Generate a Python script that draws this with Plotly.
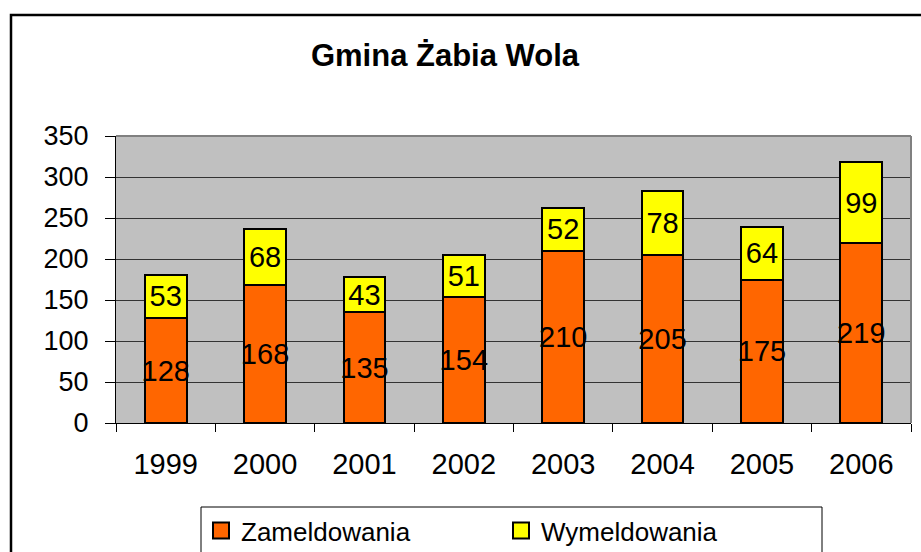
import plotly.graph_objects as go

years = ["1999", "2000", "2001", "2002", "2003", "2004", "2005", "2006"]
zameldowania = [128, 168, 135, 154, 210, 205, 175, 219]
wymeldowania = [53, 68, 43, 51, 52, 78, 64, 99]
series_names = ["Zameldowania", "Wymeldowania"]
title_text = "Gmina Żabia Wola"
y_ticks = [0, 50, 100, 150, 200, 250, 300, 350]

FONT = "Liberation Sans, Arial, sans-serif"
ORANGE, YELLOW = "#FF6600", "#FFFF00"

# plot area in pixels
L, R, T, B = 116, 911, 136, 423
W, H = 921, 552
pw, ph = R - L, B - T

def px_x(px):
    return (px - L) / pw

def px_y(py):
    return (B - py) / ph

fig = go.Figure()
for vals, name, col in [(zameldowania, series_names[0], ORANGE),
                        (wymeldowania, series_names[1], YELLOW)]:
    fig.add_trace(go.Bar(
        x=years, y=vals, name=name, showlegend=False,
        marker=dict(color=col, line=dict(color="black", width=2)),
        text=vals, textposition="inside", insidetextanchor="middle", textangle=0,
        textfont=dict(size=29, color="black", family=FONT),
        cliponaxis=False,
    ))
# legend entries (square symbols like the original legend)
for name, col in [(series_names[0], ORANGE), (series_names[1], YELLOW)]:
    fig.add_trace(go.Scatter(
        x=[None], y=[None], mode="markers", name=name,
        marker=dict(symbol="square", size=17, color=col, line=dict(color="black", width=2)),
    ))

fig.update_layout(
    width=W, height=H,
    barmode="stack", bargap=0.58,
    paper_bgcolor="white", plot_bgcolor="#C0C0C0",
    margin=dict(l=L, r=W - R, t=T, b=H - B, pad=0, autoexpand=False),
    font=dict(family=FONT, color="black"),
    uniformtext=dict(minsize=29, mode="show"),
    title=dict(text="<b>" + title_text + "</b>", x=445 / W, xanchor="center",
               y=1 - 55 / H, yanchor="middle", font=dict(size=31, family=FONT)),
    showlegend=True,
    legend=dict(orientation="h", x=px_x(201), xanchor="left", y=px_y(507), yanchor="top",
                borderwidth=0, bgcolor="rgba(0,0,0,0)",
                font=dict(size=26, family=FONT), entrywidth=255, entrywidthmode="pixels",
                traceorder="normal", itemwidth=30, itemsizing="trace"),
    xaxis=dict(type="category", showgrid=False, showline=True, linecolor="black", linewidth=1,
               ticks="outside", tickson="boundaries", ticklen=8, tickcolor="black",
               tickfont=dict(size=29, family=FONT), ticklabelstandoff=15, automargin=False,
               fixedrange=True),
    yaxis=dict(range=[0, 350], tickvals=y_ticks, showgrid=True, gridcolor="#333333", gridwidth=1.2,
               showline=True, linecolor="black", linewidth=1, ticks="outside", ticklen=10,
               tickcolor="black", tickfont=dict(size=27, family=FONT), ticklabelstandoff=11,
               zeroline=False, automargin=False, fixedrange=True),
    shapes=[
        # plot area top/right border (gray)
        dict(type="line", xref="paper", yref="paper", x0=0, x1=1, y0=1, y1=1,
             line=dict(color="#808080", width=2)),
        dict(type="line", xref="paper", yref="paper", x0=1, x1=1, y0=0, y1=1,
             line=dict(color="#808080", width=2)),
        # outer chart border
        dict(type="rect", xref="paper", yref="paper",
             x0=px_x(11), x1=px_x(930), y0=px_y(570), y1=px_y(15),
             line=dict(color="black", width=2.5), layer="below"),
        # legend frame
        dict(type="rect", xref="paper", yref="paper",
             x0=px_x(201), x1=px_x(822), y0=px_y(570), y1=px_y(507),
             line=dict(color="black", width=1), layer="below"),
    ],
)

fig.write_html("out.html", config={"displayModeBar": False},
               post_script="document.body.style.margin='0';document.body.style.overflow='hidden';")
